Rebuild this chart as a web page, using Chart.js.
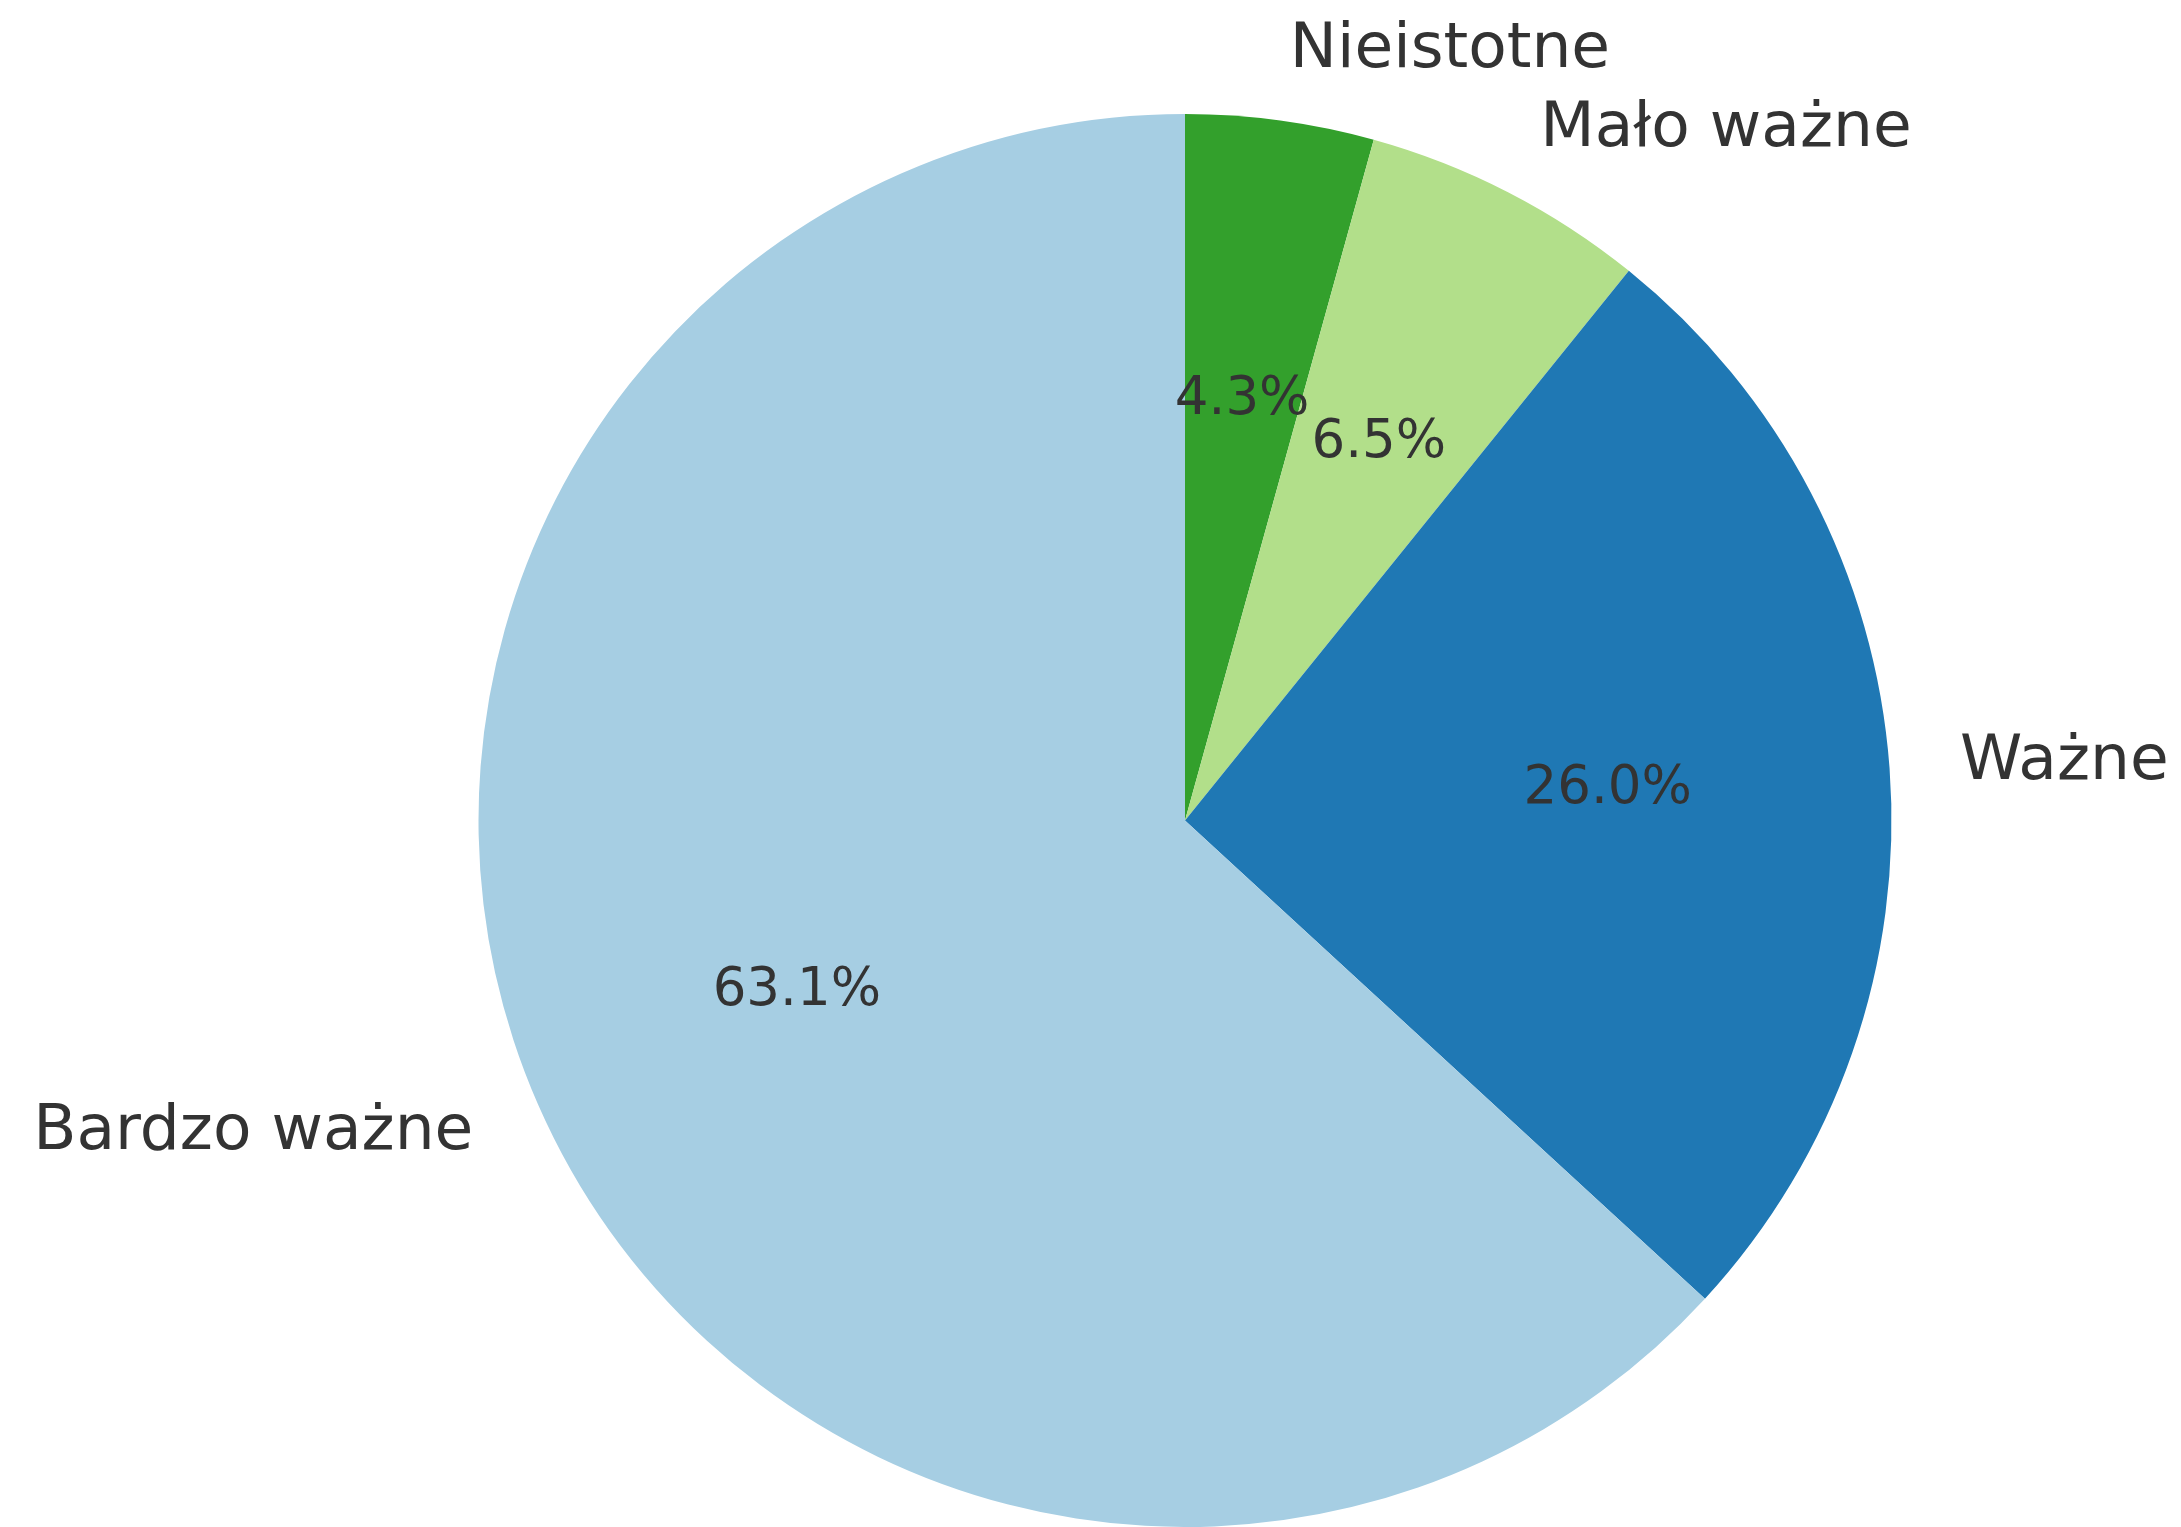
<!DOCTYPE html>
<html>
<head>
<meta charset="utf-8">
<script src="https://cdn.jsdelivr.net/npm/chart.js@4"></script>
<style>
  html, body { margin: 0; padding: 0; background: #ffffff; }
  #wrap { width: 2181px; height: 1527px; }
</style>
</head>
<body>
<div id="wrap"><canvas id="myChart"></canvas></div>
<script>
// ---------------------------------------------------------------------------
// pie chart (clockwise from the top), values in percent

let labels = ["Nieistotne", "Mało ważne", "Ważne", "Bardzo ważne"];
let values = [4.3, 6.5, 26.0, 63.1];
let sliceColors = ["#33a02c", "#b2df8a", "#1f78b4", "#a6cee3"];

// labels outside at 1.1 r, percents inside at 0.6 r
const pieText = {
  id: "pieText",
  afterDatasetsDraw(chart) {
    const ctx = chart.ctx;
    const meta = chart.getDatasetMeta(0);
    ctx.save();
    ctx.fillStyle = "#333333";
    ctx.textBaseline = "middle";
    meta.data.forEach((arc, i) => {
      const p = arc.getProps(["x", "y", "startAngle", "endAngle", "outerRadius"], true);
      const mid = (p.startAngle + p.endAngle) / 2;
      const cos = Math.cos(mid), sin = Math.sin(mid);

      ctx.font = "63px 'DejaVu Sans'";
      ctx.textAlign = cos > 0 ? "left" : "right";
      ctx.fillText(labels[i], p.x + cos * p.outerRadius * 1.1, p.y + sin * p.outerRadius * 1.1);

      ctx.font = "53px 'DejaVu Sans'";
      ctx.textAlign = "center";
      ctx.fillText(values[i].toFixed(1) + "%", p.x + cos * p.outerRadius * 0.6, p.y + sin * p.outerRadius * 0.6);
    });
    ctx.restore();
  }
};

new Chart("myChart", {
  type: "pie",
  data: {
    labels: labels,
    datasets: [{
      data: values,
      backgroundColor: sliceColors,
      borderWidth: 0
    }]
  },
  options: {
    responsive: true,
    maintainAspectRatio: false,
    animation: false,
    layout: {
      padding: { left: 477, right: 288, top: 114, bottom: 0 }
    },
    plugins: {
      legend: { display: false },
      tooltip: { enabled: false }
    }
  },
  plugins: [pieText]
});
</script>
</body>
</html>
